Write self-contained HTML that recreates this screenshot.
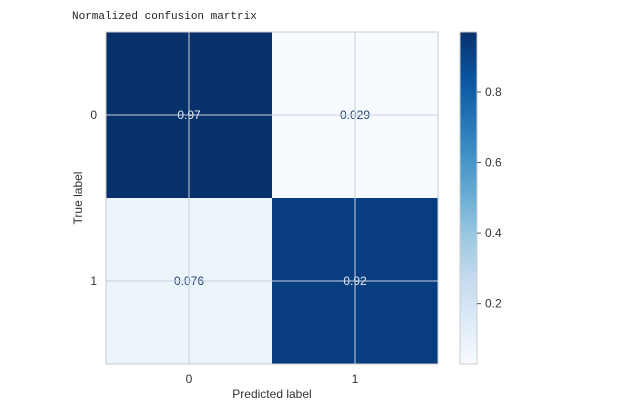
<!DOCTYPE html>
<html><head><meta charset="utf-8"><style>
body{margin:0;background:#fff;width:624px;height:407px;overflow:hidden;font-family:"Liberation Sans",sans-serif}
</style></head><body>
<svg id="chart" width="624" height="407" xmlns="http://www.w3.org/2000/svg">
<defs>
<linearGradient id="cb" x1="0" y1="1" x2="0" y2="0">
<stop offset="0" stop-color="#f7fbff"/><stop offset="0.125" stop-color="#deebf7"/><stop offset="0.25" stop-color="#c6dbef"/><stop offset="0.375" stop-color="#9ecae1"/><stop offset="0.5" stop-color="#6baed6"/><stop offset="0.625" stop-color="#4292c6"/><stop offset="0.75" stop-color="#2171b5"/><stop offset="0.875" stop-color="#08519c"/><stop offset="1" stop-color="#08306b"/>
</linearGradient>
</defs>
<text x="72" y="19" font-family="Liberation Mono, monospace" font-size="11" fill="#222">Normalized confusion martrix</text>
<g id="cells"></g>
<g id="grid"></g>
<rect x="106" y="32" width="332" height="332" fill="none" stroke="#ccc"/>
<g id="ticks"></g>
<text x="272" y="398" text-anchor="middle" font-size="12" fill="#333">Predicted label</text>
<text transform="translate(82,198) rotate(-90)" text-anchor="middle" font-size="12" fill="#333">True label</text>
<rect x="460" y="32" width="17" height="332" fill="url(#cb)" stroke="#ccc"/>
<g id="cbticks"></g>
</svg>
<script>
const categories = ["0","1"];
const values = [[0.97,0.029],[0.076,0.92]];
const valueLabels = [["0.97","0.029"],["0.076","0.92"]];
const cbTicks = [0.2,0.4,0.6,0.8];
const cbTickLabels = ["0.2","0.4","0.6","0.8"];

const NS="http://www.w3.org/2000/svg";
const X0=106,Y0=32,W=332,H=332;
const flat=values.flat(); const vmin=Math.min(...flat), vmax=Math.max(...flat);
const stops=["#f7fbff","#deebf7","#c6dbef","#9ecae1","#6baed6","#4292c6","#2171b5","#08519c","#08306b"];
function hex(h){return [1,3,5].map(i=>parseInt(h.substr(i,2),16));}
function color(v){let t=(v-vmin)/(vmax-vmin);t=Math.max(0,Math.min(1,t));const p=t*8,i=Math.min(7,Math.floor(p)),f=p-i;const a=hex(stops[i]),b=hex(stops[i+1]);return "rgb("+a.map((c,k)=>Math.round(c+(b[k]-c)*f)).join(",")+")";}
const n=categories.length,cw=W/n,ch=H/n;
const xs=i=>X0+cw*(i+0.5), ys=i=>Y0+ch*(i+0.5);
const cbY=v=>Y0+H-(v-vmin)/(vmax-vmin)*H;
function el(t,a,p){const e=document.createElementNS(NS,t);for(const k in a)e.setAttribute(k,a[k]);p.appendChild(e);return e;}
const cells=document.getElementById('cells'),grid=document.getElementById('grid'),ticks=document.getElementById('ticks'),cbt=document.getElementById('cbticks');
for(let r=0;r<n;r++)for(let c=0;c<n;c++){
 const rect=el('rect',{x:X0+c*cw,y:Y0+r*ch,width:cw,height:ch,fill:color(values[r][c])},cells);
 
 
}
for(let i=0;i<n;i++){
 const gv=el('line',{x1:xs(i),x2:xs(i),y1:Y0,y2:Y0+H,stroke:"#c8d0dc","stroke-width":1},grid);
 
 
 const gh=el('line',{x1:X0,x2:X0+W,y1:ys(i),y2:ys(i),stroke:"#c8d0dc","stroke-width":1},grid);
 
 
 const tx=el('text',{x:xs(i),y:383,"text-anchor":"middle","font-size":12,fill:"#333"},ticks);tx.textContent=categories[i];
 
 
 const ty=el('text',{x:97,y:ys(i)+4,"text-anchor":"end","font-size":12,fill:"#333"},ticks);ty.textContent=categories[i];
 
 
}
for(let r=0;r<n;r++)for(let c=0;c<n;c++){
 const t=(values[r][c]-vmin)/(vmax-vmin);
 const tt=el('text',{x:xs(c),y:ys(r)+4,"text-anchor":"middle","font-size":12,fill:t>0.5?"#e6ecf5":"#1f3f6e"},cells);
 tt.textContent=valueLabels[r][c];
 
 
}
cbTicks.forEach((v,i)=>{
 const y=cbY(v);
 const l=el('line',{x1:477,x2:481,y1:y,y2:y,stroke:"#555"},cbt);
 
 
 const t=el('text',{x:485,y:y+4,"font-size":12,fill:"#333"},cbt);t.textContent=cbTickLabels[i];
 
 
});
</script>
</body></html>
